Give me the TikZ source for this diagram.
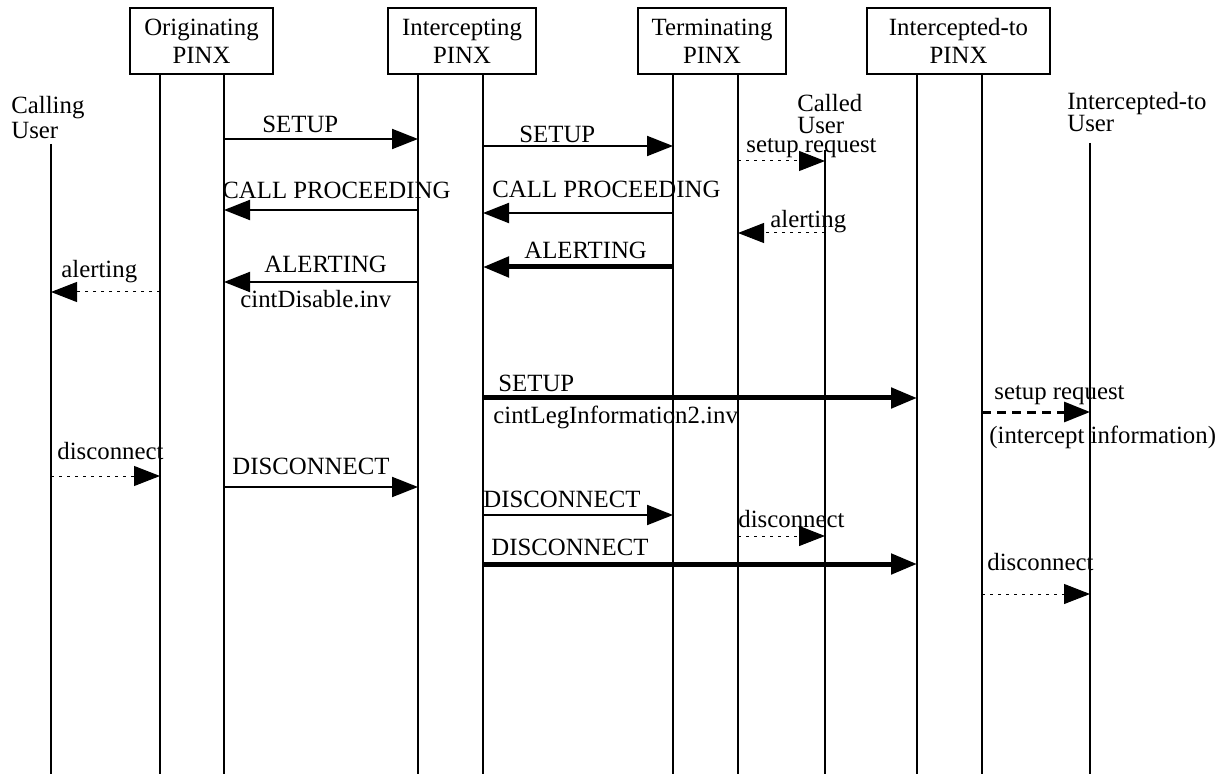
\documentclass[tikz,border=0pt]{standalone}
\usepackage{fontspec}
\setmainfont{Liberation Serif}
\usetikzlibrary{arrows.meta}

\tikzset{
  pinx/.style={draw, line width=1pt, minimum height=33pt, inner sep=0pt, align=center,
    font=\fontsize{12.4}{14}\selectfont},
  party/.style={anchor=north west, inner sep=0pt, align=left},
  life/.style={line width=1pt},
  msg/.style={line width=1pt, -{Triangle[length=13pt,width=10pt]}},
  heavy/.style={msg, line width=2.5pt},
  local/.style={line width=0.5pt, dash pattern=on 1.5pt off 2.5pt, -{Triangle[length=13pt,width=10pt]}},
  tunnel/.style={line width=1.5pt, dash pattern=on 4.5pt off 3pt, -{Triangle[length=13pt,width=10pt]}},
  lbl/.style={anchor=base west, inner sep=0pt}
}

\begin{document}
\begin{tikzpicture}[x=0.5pt, y=-0.5pt, font=\fontsize{12.4}{14}\selectfont]
\useasboundingbox (0,0) rectangle (1229,774);

\node[pinx, minimum width=71.5pt](orig) at (201.5,41){Originating\\PINX};
\node[pinx, minimum width=74pt](icpt) at (462,41){Intercepting\\PINX};
\node[pinx, minimum width=74pt](term) at (712,41){Terminating\\PINX};
\node[pinx, minimum width=91.5pt](itto) at (958.5,41){Intercepted-to\\PINX};

\node[party, font=\fontsize{12.4}{12.5}\selectfont](calling) at (11,96){Calling\\User};
\node[party, font=\fontsize{12.4}{11}\selectfont](called) at (797,94){Called\\User};
\node[party, font=\fontsize{12.4}{11}\selectfont](ittouser) at (1067,92){Intercepted-to\\User};

\coordinate (bottom) at (0,774);
\coordinate (cu) at (51,144);
\coordinate (oa) at (160,74);
\coordinate (ob) at (224,74);
\coordinate (ia) at (418,74);
\coordinate (ib) at (483,74);
\coordinate (ta) at (673,74);
\coordinate (tb) at (738,74);
\coordinate (cd) at (825,150);
\coordinate (xa) at (917,74);
\coordinate (xb) at (982,74);
\coordinate (xu) at (1090,143);
\foreach \l in {cu,oa,ob,ia,ib,ta,tb,cd,xa,xb,xu}
  \draw[life] (\l) -- (\l |- bottom);

\coordinate (m1) at (0,139);
\coordinate (m2) at (0,146);
\coordinate (m3) at (0,161);
\coordinate (m4) at (0,210);
\coordinate (m5) at (0,213);
\coordinate (m6) at (0,233);
\coordinate (m7) at (0,267);
\coordinate (m8) at (0,282);
\coordinate (m9) at (0,292);
\coordinate (m10) at (0,398);
\coordinate (m11) at (0,412);
\coordinate (m12) at (0,476);
\coordinate (m13) at (0,487);
\coordinate (m14) at (0,515);
\coordinate (m15) at (0,536);
\coordinate (m16) at (0,564);
\coordinate (m17) at (0,594);

\draw[msg] (ob |- m1) -- (ia |- m1);
\draw[msg] (ib |- m2) -- (ta |- m2);
\draw[local] (tb |- m3) -- (cd |- m3);
\draw[msg] (ia |- m4) -- (ob |- m4);
\draw[msg] (ta |- m5) -- (ib |- m5);
\draw[local] (cd |- m6) -- (tb |- m6);
\draw[heavy] (ta |- m7) -- (ib |- m7);
\draw[msg] (ia |- m8) -- (ob |- m8);
\draw[local] (oa |- m9) -- (cu |- m9);
\draw[heavy] (ib |- m10) -- (xa |- m10);
\draw[tunnel] (xb |- m11) -- (xu |- m11);
\draw[local] (cu |- m12) -- (oa |- m12);
\draw[msg] (ob |- m13) -- (ia |- m13);
\draw[msg] (ib |- m14) -- (ta |- m14);
\draw[local] (tb |- m15) -- (cd |- m15);
\draw[heavy] (ib |- m16) -- (xa |- m16);
\draw[local] (xb |- m17) -- (xu |- m17);

\node[lbl](t1) at (262,133){SETUP};
\node[lbl](t2) at (519,143){SETUP};
\node[lbl](t3) at (746,153){setup request};
\node[lbl](t4) at (222,199){CALL PROCEEDING};
\node[lbl](t5) at (492,198){CALL PROCEEDING};
\node[lbl](t6) at (770,228){alerting};
\node[lbl](t7) at (524,259){ALERTING};
\node[lbl](t8) at (264,273){ALERTING};
\node[lbl](t8b) at (240,308){cintDisable.inv};
\node[lbl](t9) at (61,278){alerting};
\node[lbl](t10) at (498,392){SETUP};
\node[lbl](t10b) at (493,423){cintLegInformation2.inv};
\node[lbl](t11) at (994,400){setup request};
\node[lbl](t11b) at (989,444){(intercept information)};
\node[lbl](t12) at (57,459){disconnect};
\node[lbl](t13) at (232,474){DISCONNECT};
\node[lbl](t14) at (483,507){DISCONNECT};
\node[lbl](t15) at (738,527){disconnect};
\node[lbl](t16) at (491,555){DISCONNECT};
\node[lbl](t17) at (987,570){disconnect};
\end{tikzpicture}
\end{document}
